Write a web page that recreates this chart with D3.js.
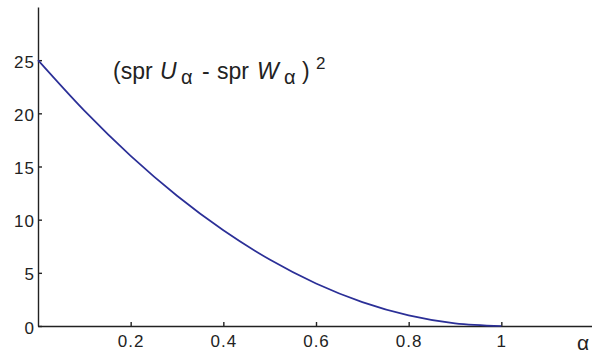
<!DOCTYPE html>
<html>
<head>
<meta charset="utf-8">
<script src="https://cdn.jsdelivr.net/npm/d3@7"></script>
<style>
  body { margin: 0; background: #fff; }
  svg { display: block; font-family: "Liberation Sans", Arial, sans-serif; }
</style>
</head>
<body id="body">
<svg></svg>
<script>
var width = 592;
var height = 353;

// values
var alphaVals = [0, 0.1, 0.2, 0.3, 0.4, 0.5, 0.6, 0.7, 0.8, 0.9, 1.0];
var diffSq = [25, 20.25, 16, 12.25, 9, 6.25, 4, 2.25, 1, 0.25, 0];
var xTicks = [0.2, 0.4, 0.6, 0.8, 1];
var yTicks = [0, 5, 10, 15, 20, 25];

var svg = d3.select("svg")
  .attr("width", width)
  .attr("height", height);

var x = d3.scaleLinear()
  .domain([0, 1.2])
  .range([38, 594]);

var y = d3.scaleLinear()
  .domain([0, 30])
  .range([326, 7]);

svg.append("g")
  .attr("class", "xaxis")
  .attr("transform", "translate(0," + y(0) + ")")
  .call(d3.axisBottom(x)
    .tickValues(xTicks)
    .tickSizeInner(-4)
    .tickSizeOuter(0)
    .tickPadding(9)
    .tickFormat(d3.format("")));

svg.append("g")
  .attr("class", "yaxis")
  .attr("transform", "translate(" + x(0) + ",0)")
  .call(d3.axisLeft(y)
    .tickValues(yTicks)
    .tickSizeInner(-4)
    .tickSizeOuter(0)
    .tickPadding(3));

svg.selectAll(".domain, .tick line")
  .attr("stroke", "#222")
  .attr("stroke-width", 1.4);

svg.selectAll(".tick text")
  .attr("fill", "#222")
  .attr("font-size", 17)
  .attr("letter-spacing", 1)
  .attr("font-family", "Liberation Sans, Arial, sans-serif");

svg.selectAll(".yaxis .tick text")
  .attr("dy", 7);

var line = d3.line()
  .x(function (d, i) { return x(alphaVals[i]); })
  .y(function (d) { return y(d); })
  .curve(d3.curveMonotoneX);

svg.append("path")
  .datum(diffSq)
  .attr("fill", "none")
  .attr("stroke", "#2b2f97")
  .attr("stroke-width", 1.7)
  .attr("d", line);

// axis letter
svg.append("text")
  .attr("x", 577)
  .attr("y", 350)
  .attr("font-size", 21)
  .attr("fill", "#222")
  .text("α");

// formula label
var lab = svg.append("text")
  .attr("y", 79)
  .attr("font-size", 23)
  .attr("fill", "#222");
lab.append("tspan").attr("x", 113).text("(spr");
lab.append("tspan").attr("x", 160).attr("font-style", "italic").text("U");
lab.append("tspan").attr("x", 181).attr("y", 84).attr("font-size", 20).text("α");
lab.append("tspan").attr("x", 202).attr("y", 79).text("-");
lab.append("tspan").attr("x", 217).text("spr");
lab.append("tspan").attr("x", 257).attr("font-style", "italic").text("W");
lab.append("tspan").attr("x", 284).attr("y", 84).attr("font-size", 20).text("α");
lab.append("tspan").attr("x", 302).attr("y", 79).text(")");
lab.append("tspan").attr("x", 316).attr("y", 69).attr("font-size", 17).text("2");
</script>
</body>
</html>
